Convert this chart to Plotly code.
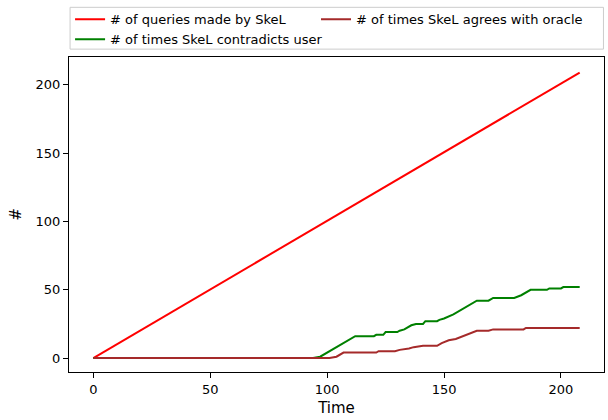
import plotly.graph_objects as go

# Number of queries grows one per time step
queries_t = [0, 208]
queries_v = [0, 209]

# Breakpoints of the "contradicts user" counter
contradicts_t = [0, 94, 97, 112, 120, 121, 124, 125, 130, 131, 133, 134, 135, 136, 138,
                 141, 142, 147, 148, 150, 154, 156, 164, 169, 171, 180, 183, 187, 194,
                 195, 200, 201, 208]
contradicts_v = [0, 0, 1, 16, 16, 17, 17, 19, 19, 20, 21, 22, 23, 24, 25,
                 25, 27, 27, 28, 29, 32, 34, 42, 42, 44, 44, 46, 50, 50,
                 51, 51, 52, 52]

# Breakpoints of the "agrees with oracle" counter
agrees_t = [0, 101, 104, 107, 121, 122, 129, 131, 135, 137, 141, 147, 149, 152, 155,
            158, 164, 169, 171, 184, 185, 208]
agrees_v = [0, 0, 1, 4, 4, 5, 5, 6, 7, 8, 9, 9, 11, 13, 14,
            16, 20, 20, 21, 21, 22, 22]

x_ticks = [0, 50, 100, 150, 200]
y_ticks = [0, 50, 100, 150, 200]

FONT = "DejaVu Sans"

fig = go.Figure()
fig.add_trace(go.Scatter(x=queries_t, y=queries_v, mode="lines",
                         name="# of queries made by SkeL",
                         line=dict(color="#ff0000", width=2), legend="legend"))
fig.add_trace(go.Scatter(x=contradicts_t, y=contradicts_v, mode="lines",
                         name="# of times SkeL contradicts user",
                         line=dict(color="#008000", width=2), legend="legend"))
fig.add_trace(go.Scatter(x=agrees_t, y=agrees_v, mode="lines",
                         name="# of times SkeL agrees with oracle",
                         line=dict(color="#a52a2a", width=2), legend="legend2"))

axis_common = dict(
    showline=True, linecolor="black", linewidth=1, mirror=True,
    ticks="outside", ticklen=5, tickwidth=1, tickcolor="black",
    showgrid=False, zeroline=False,
    tickfont=dict(family=FONT, size=13, color="black"),
)

fig.update_xaxes(range=[-10.4, 218.4], tickvals=x_ticks,
                 title=dict(text="Time", font=dict(family=FONT, size=15, color="black"),
                            standoff=6),
                 **axis_common)
fig.update_yaxes(range=[-10.2, 220.4], tickvals=y_ticks,
                 title=dict(text="#", font=dict(family=FONT, size=15, color="black"),
                            standoff=10),
                 **axis_common)

# Two-column legend: first column in "legend", second in "legend2",
# framed together by one rectangle above the axes
legend_common = dict(
    orientation="v", xanchor="left", y=1.167, yanchor="top",
    bgcolor="rgba(0,0,0,0)", borderwidth=0,
    font=dict(family=FONT, size=13, color="black"),
)

fig.update_layout(
    width=608, height=420,
    margin=dict(l=69, r=4, t=55, b=48),
    plot_bgcolor="white", paper_bgcolor="white",
    font=dict(family=FONT, size=13, color="black"),
    showlegend=True,
    legend=dict(x=0.002, **legend_common),
    legend2=dict(x=0.4617, **legend_common),
    shapes=[dict(type="rect", xref="paper", yref="paper",
                 x0=0.002, x1=0.999, y0=1.025, y1=1.1577,
                 line=dict(color="#cccccc", width=1),
                 fillcolor="rgba(0,0,0,0)", layer="above")],
)

fig.write_html("out.html")
